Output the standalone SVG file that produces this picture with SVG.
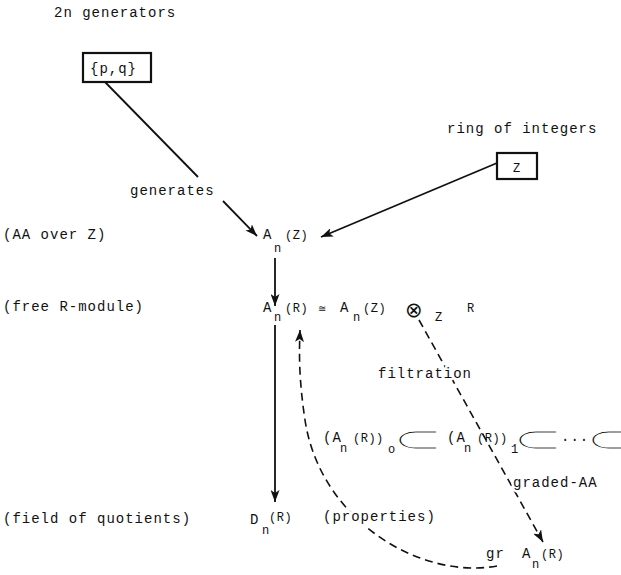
<svg xmlns="http://www.w3.org/2000/svg" width="621" height="575" viewBox="0 0 621 575">
  <style>
    text { font-family: "Liberation Mono", "Courier New", monospace; font-size: 14px; letter-spacing: 1px; fill: #111; }
    .sub { font-size: 12px; letter-spacing: 0; }
    .sm { font-size: 12px; letter-spacing: 0.5px; }
    .sym { font-family: "DejaVu Sans", sans-serif; letter-spacing: 0; }
    .otimes { font-size: 21px; }
    /* wide, thin inclusion sign: horizontally stretched glyph, edges trimmed by a white stroke */
    .subset { font-family: "Noto Sans CJK JP", "DejaVu Sans", sans-serif; font-size: 28px; letter-spacing: 0; stroke: #fff; stroke-width: 1.6px; vector-effect: non-scaling-stroke; }
    .cong { font-size: 10px; }
    .halo { stroke: #fff; stroke-width: 5px; paint-order: stroke; stroke-linejoin: round; }
    .box { fill: #fff; stroke: #111; stroke-width: 2.2; }
    .solid { fill: none; stroke: #111; stroke-width: 1.8; }
    .dash { fill: none; stroke: #111; stroke-width: 1.6; stroke-dasharray: 8 5; }
  </style>
  <defs>
    <marker id="arrow" markerUnits="userSpaceOnUse" markerWidth="13" markerHeight="9" refX="12" refY="4.5" orient="auto">
      <path d="M0,0 L12,4.5 L0,9 L3,4.5 z" fill="#111"/>
    </marker>
  </defs>

  <!-- connectors -->
  <g id="connectors">
    <line class="solid" x1="105" y1="82" x2="198" y2="177"/>
    <line class="solid" x1="223" y1="201" x2="257" y2="236" marker-end="url(#arrow)"/>
    <line class="solid" x1="497" y1="163" x2="321" y2="237" marker-end="url(#arrow)"/>
    <line class="solid" x1="275" y1="258" x2="275" y2="306" marker-end="url(#arrow)"/>
    <line class="solid" x1="275" y1="325" x2="275" y2="502" marker-end="url(#arrow)"/>
    <line class="dash" x1="419" y1="320" x2="543" y2="542" marker-end="url(#arrow)"/>
    <path class="dash" d="M497,566 C420,580 320,520 305,420 C299,380 299,355 300,330" marker-end="url(#arrow)"/>
  </g>

  <!-- generators -->
  <g id="generators">
    <text x="54" y="17">2n generators</text>
    <rect class="box" x="83" y="53" width="68" height="29"/>
    <text x="90" y="73">{p,q}</text>
    <text class="halo" x="130" y="195">generates</text>
  </g>

  <!-- integers -->
  <g id="integers">
    <text x="447" y="133">ring of integers</text>
    <rect class="box" x="497" y="153" width="40" height="26"/>
    <text class="sm" x="513" y="172">Z</text>
  </g>

  <!-- A_n(Z) -->
  <g id="anz">
    <text x="3" y="239">(AA over Z)</text>
    <text x="263" y="239">A<tspan class="sub" x="274" y="252">n</tspan><tspan class="sm" x="285" y="239">(Z)</tspan></text>
  </g>

  <!-- A_n(R) -->
  <g id="anr">
    <text x="3" y="311">(free R-module)</text>
    <text x="263" y="312">A<tspan class="sub" x="274" y="321">n</tspan><tspan class="sm" x="285" y="312">(R)</tspan></text>
    <text class="sym cong" x="318" y="312">≅</text>
    <text x="340" y="312">A<tspan class="sub" x="353" y="321">n</tspan><tspan class="sm" x="363" y="312">(Z)</tspan></text>
    <text class="sym otimes" x="405" y="317">⊗</text>
    <text class="sub" x="435" y="321">Z</text>
    <text class="sm" x="467" y="312">R</text>
  </g>

  <!-- filtration -->
  <g id="filtration">
    <text class="halo" x="378" y="378">filtration</text>
    <text x="323" y="442">(A<tspan class="sub" x="340" y="452">n</tspan><tspan class="sm" x="353" y="442">(R))</tspan><tspan class="sub" x="388" y="453">o</tspan></text>
    <text class="subset" transform="translate(392 451) scale(1.85 1)">⊂</text>
    <text x="447" y="442">(A<tspan class="sub" x="464" y="452">n</tspan><tspan class="sm" x="477" y="442">(R))</tspan><tspan class="sub" x="511" y="453">1</tspan></text>
    <text class="subset" transform="translate(512 451) scale(1.85 1)">⊂</text>
    <text x="561" y="444">···</text>
    <text class="subset" transform="translate(585 451) scale(1.85 1)">⊂</text>
    <text class="halo" x="513" y="487">graded-AA</text>
  </g>

  <!-- D_n(R) -->
  <g id="dnr">
    <text x="3" y="523">(field of quotients)</text>
    <text x="250" y="524">D<tspan class="sub" x="262" y="534">n</tspan><tspan class="sm" x="269" y="521">(R)</tspan></text>
    <text class="halo" x="323" y="521">(properties)</text>
  </g>

  <!-- gr A_n(R) -->
  <g id="gr">
    <text x="486" y="558">gr</text>
    <text x="522" y="558">A<tspan class="sub" x="532" y="568">n</tspan><tspan class="sm" x="541" y="558">(R)</tspan></text>
  </g>
</svg>
